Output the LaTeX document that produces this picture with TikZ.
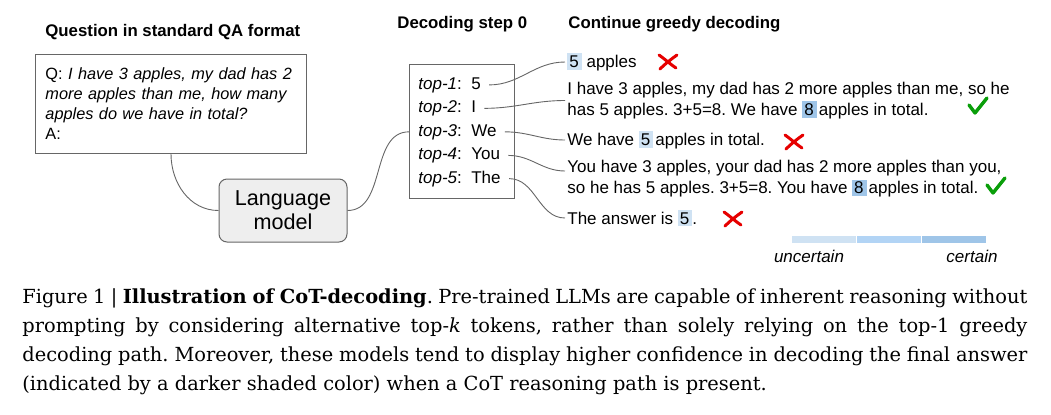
\documentclass[tikz,border=0pt]{standalone}
\usepackage{fontspec}
\setsansfont{Liberation Sans}
\newfontfamily\capfont{DejaVu Serif}
\usepackage{tikz}
\usetikzlibrary{calc}

\definecolor{lowconf}{HTML}{CFE2F3}
\definecolor{midconf}{HTML}{B2D4F5}
\definecolor{highconf}{HTML}{9FC5E8}
\definecolor{wrongred}{HTML}{E60000}
\definecolor{rightgreen}{HTML}{0A9E0A}
\definecolor{edgegray}{HTML}{666666}
\definecolor{lmfill}{HTML}{EEEEEE}

\newcommand{\shadetok}[2]{{\setlength{\fboxsep}{0pt}\colorbox{#1}{\hspace{1pt}\rule[-1.2pt]{0pt}{8.4pt}#2\hspace{1.5pt}}}}

\begin{document}
\frenchspacing
\begin{tikzpicture}[x=0.5pt, y=-0.5pt,
    txt/.style={font=\sffamily\fontsize{8.5}{10.5}\selectfont, inner sep=0pt},
    head/.style={font=\sffamily\bfseries\fontsize{8.4}{10}\selectfont, inner sep=0pt, anchor=base west},
    answer/.style={txt, inner xsep=1pt, anchor=west, align=left},
    link/.style={draw=edgegray, line width=0.45pt},
    wrong/.pic={
      \draw[wrongred, line width=1.5pt, line cap=round] (-9,-6) .. controls (-2,-1) and (2,3) .. (8,7);
      \draw[wrongred, line width=1.5pt, line cap=round] (9,-6) .. controls (2,-1) and (-3,3) .. (-8,8);
    },
    right/.pic={
      \draw[rightgreen, line width=1.7pt, line join=round, line cap=round] (-9,-1) -- (-3,7) -- (9,-8);
    }]
  \useasboundingbox (0,0) rectangle (1051,414);

  % headings
  \node[head] (hq) at (45,36) {Question in standard QA format};
  \node[head] (hd) at (397,28) {Decoding step 0};
  \node[head] (hc) at (568,28) {Continue greedy decoding};

  % question box
  \node[draw=edgegray, line width=0.5pt, txt, font=\sffamily\fontsize{8.15}{10}\selectfont,
        anchor=north west, inner xsep=5pt,
        text width=125.5pt, minimum height=49.5pt, align=left] (qa) at (35,54)
    {Q: \textit{I have 3 apples, my dad has 2}\\\textit{more apples than me, how many}\\\textit{apples do we have in total?}\\A:};

  % language model
  \node[draw=edgegray, line width=0.5pt, fill=lmfill, rounded corners=4pt,
        minimum width=64pt, minimum height=31.5pt, align=center,
        font=\sffamily\fontsize{10.8}{12}\selectfont] (lm) at (283,210.5) {Language\\model};

  % top-k box
  \node[draw=edgegray, line width=0.5pt, anchor=north west,
        minimum width=52.5pt, minimum height=67pt] (tbox) at (409,64) {};
  \foreach \i/\tok in {1/5,2/I,3/We,4/You,5/The}
    \node[txt, anchor=base west] (t\i) at (418,{89+23.5*(\i-1)}) {\textit{top-\i}:\ \ \tok};

  \draw[link] (qa.south) to[out=-90,in=180] (lm.west);
  \draw[link] (lm.east) to[out=0,in=180] (tbox.west |- t3.west);

  % greedy continuations
  \node[answer] (a1) at (565,62) {\shadetok{lowconf}{5} apples};
  \node[answer] (a2) at (565,100.5) {I have 3 apples, my dad has 2 more apples than me, so he\\has 5 apples. 3+5=8. We have \shadetok{highconf}{8}\hspace{1pt}apples in total.};
  \node[answer] (a3) at (565,140) {We have \shadetok{lowconf}{5}\hspace{1pt}apples in total.};
  \node[answer] (a4) at (565,179) {You have 3 apples, your dad has 2 more apples than you,\\so he has 5 apples. 3+5=8. You have \shadetok{highconf}{8}\hspace{1pt}apples in total.};
  \node[answer] (a5) at (565,218) {The answer is \shadetok{lowconf}{5}.};
  \coordinate (a4in) at ([yshift=4pt]a4.west);

  \foreach \i/\e in {1/a1.west,2/a2.west,3/a3.west,4/a4in,5/a5.west}
    \draw[link] ([xshift=4pt]t\i.east) to[out=0,in=180] (\e);

  \pic at (668,61) {wrong};
  \pic at (978,106) {right};
  \pic at (794,141) {wrong};
  \pic at (996,186) {right};
  \pic at (733,218) {wrong};

  % confidence legend
  \foreach \c [count=\k] in {lowconf,midconf,highconf}
    \fill[\c] ({792+65*(\k-1)},236) rectangle ++(64,7);
  \node[txt, font=\sffamily\itshape\fontsize{8.5}{10.5}\selectfont] (unc) at (809,256) {uncertain};
  \node[txt, font=\sffamily\itshape\fontsize{8.5}{10.5}\selectfont] (cert) at (972,256) {certain};

  % caption
  \node[anchor=north west, text width=502.5pt, align=justify, inner sep=0pt,
        font=\capfont\fontsize{9.7}{14.5}\selectfont] (cap) at (22,288)
    {Figure 1 | \textbf{Illustration of CoT-decoding}. Pre-trained LLMs are capable of inherent reasoning without\linebreak
     prompting by considering alternative top-\textit{k} tokens, rather than solely relying on the top-1 greedy\linebreak
     decoding path. Moreover, these models tend to display higher confidence in decoding the final answer\linebreak
     (indicated by a darker shaded color) when a CoT reasoning path is present.};
\end{tikzpicture}
\end{document}
